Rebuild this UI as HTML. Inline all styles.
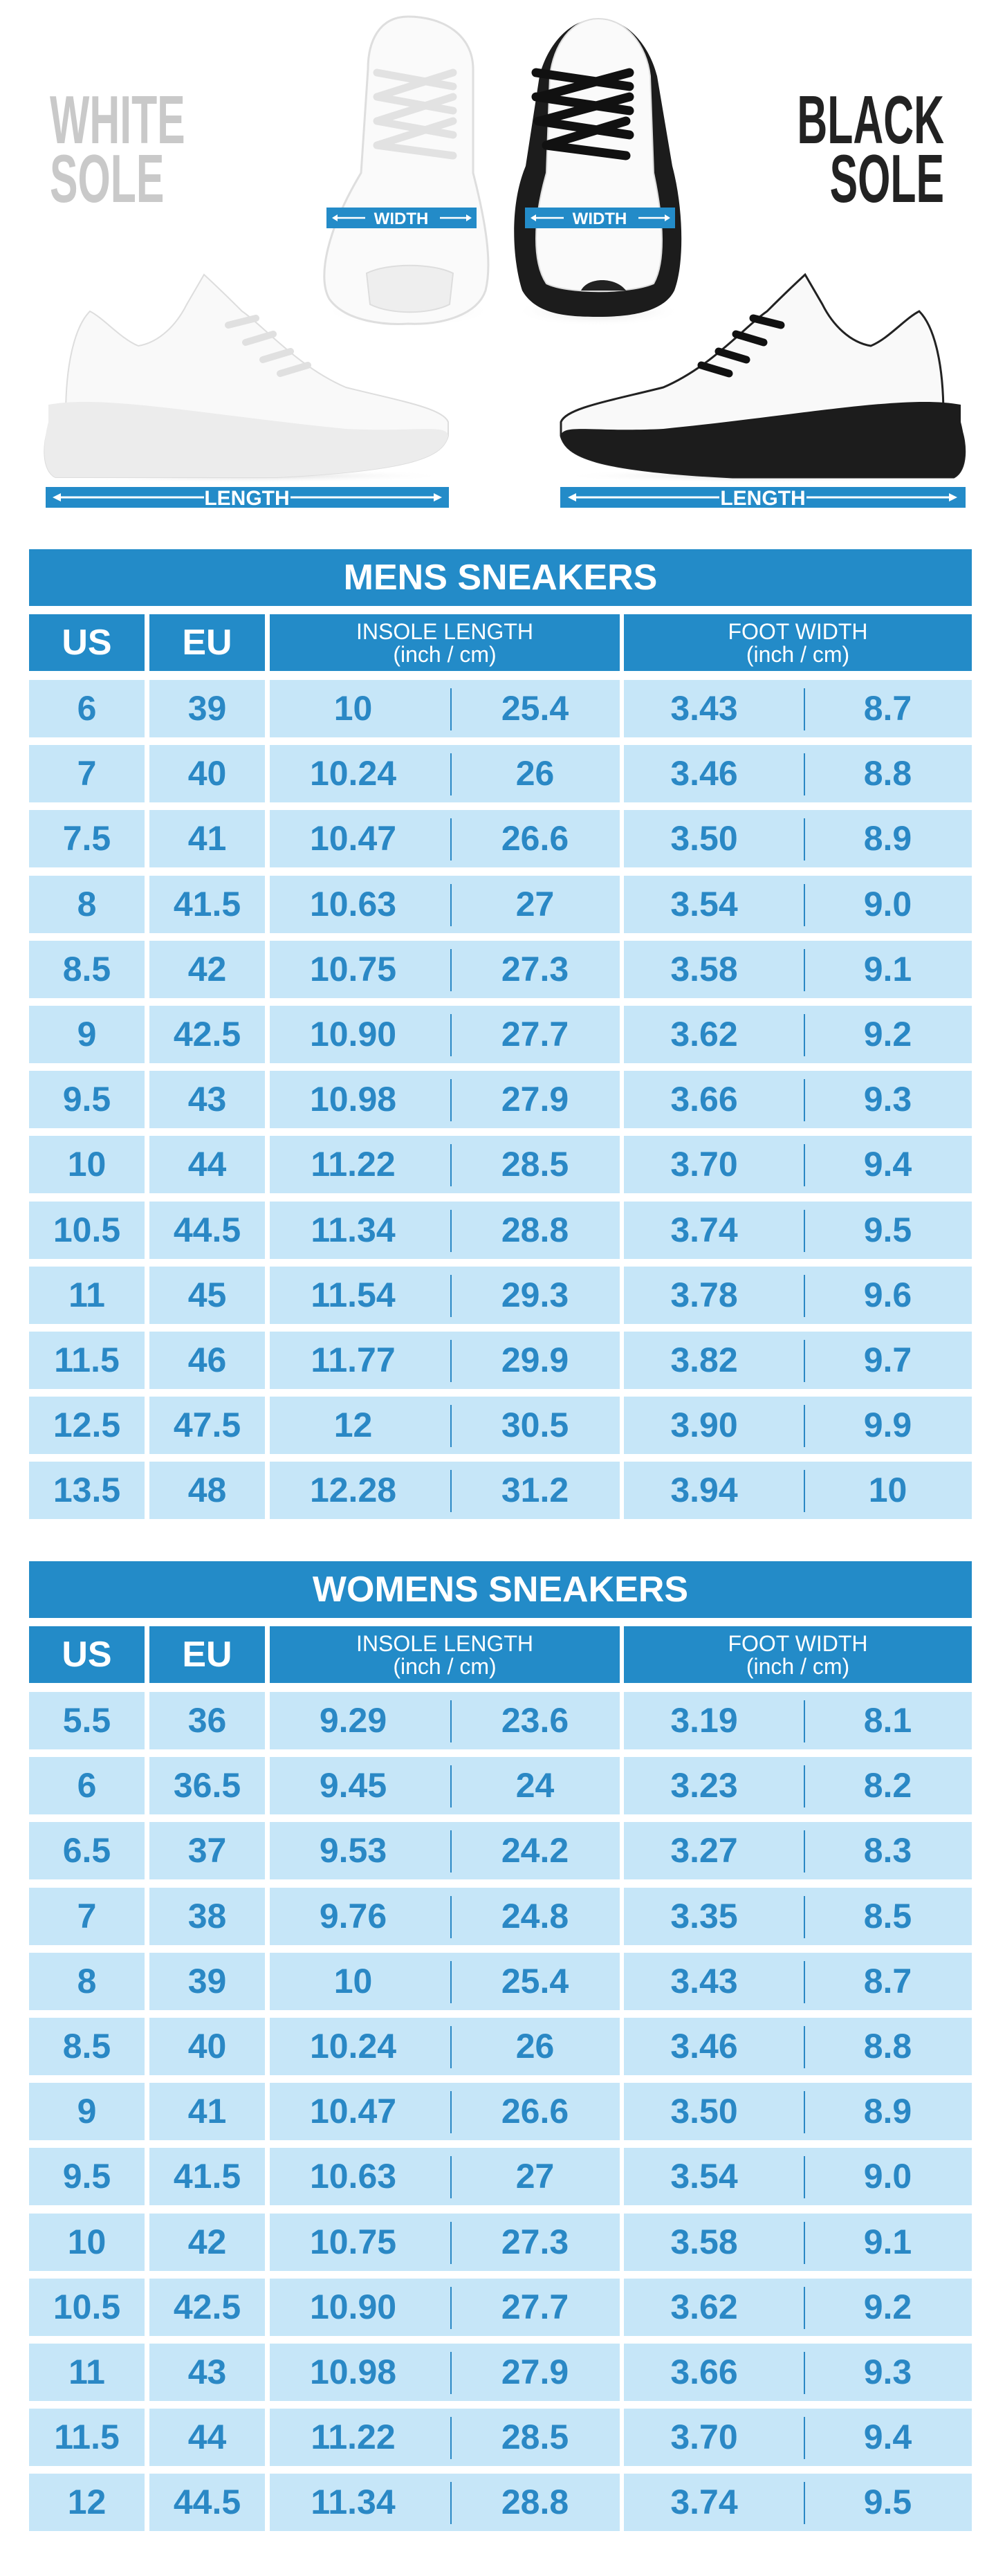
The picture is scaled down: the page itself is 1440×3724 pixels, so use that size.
<!DOCTYPE html>
<html><head><meta charset="utf-8">
<style>
*{margin:0;padding:0;box-sizing:border-box}
body{width:1440px;height:3724px;background:#fff;position:relative;overflow:hidden;font-family:"Liberation Sans",sans-serif}
.sec{position:absolute;left:42px;width:1363px}
.title{position:absolute;left:0;width:1363px;height:82px;background:#238bc8;color:#fff;font-weight:bold;font-size:52px;line-height:82px;text-align:center}
.hd{position:absolute;height:82px;background:#238bc8;color:#fff;text-align:center}
.hd.big{font-weight:bold;font-size:52px;line-height:82px}
.hd.sm{font-size:32px;line-height:33px;padding-top:9px}
.rows{position:absolute;left:0;width:1363px}
.r{position:relative;height:83px;margin-bottom:11.2px}
.c{position:absolute;top:0;height:83px;background:#c6e6f8;color:#2a88c5;font-weight:bold;font-size:50px;line-height:83px;text-align:center}
.us{left:0;width:167px}.eu{left:174px;width:167px}
.in{left:348px;width:506px}.fw{left:860px;width:503px}
.c i{font-style:normal;position:absolute;top:0;width:50%;text-align:center}
.c i:first-child{left:0}
.c i:last-child{right:0}
.c i:last-child:before{content:"";position:absolute;left:0;top:12px;height:61px;border-left:2px solid #2a88c5}
.in i:first-child{width:261px;left:-10px}.in i:last-child{width:245px}
.fw i:first-child{width:260px;left:-14px}.fw i:last-child{width:243px}
</style></head><body>

<svg width="1440" height="780" style="position:absolute;left:0;top:0" xmlns="http://www.w3.org/2000/svg">
<defs>
<radialGradient id="sh" cx="50%" cy="50%" r="50%"><stop offset="0" stop-color="#bbb" stop-opacity=".6"/><stop offset="1" stop-color="#fff" stop-opacity="0"/></radialGradient>
</defs>
<g font-family="Liberation Sans" font-weight="bold" font-size="98">
<text x="72" y="207" fill="#c9c9c9" transform="translate(72 0) scale(.62 1) translate(-72 0)">WHITE</text>
<text x="72" y="292" fill="#c9c9c9" transform="translate(72 0) scale(.62 1) translate(-72 0)">SOLE</text>
<text x="1365" y="207" fill="#222" text-anchor="end" transform="translate(1365 0) scale(.62 1) translate(-1365 0)">BLACK</text>
<text x="1365" y="292" fill="#222" text-anchor="end" transform="translate(1365 0) scale(.62 1) translate(-1365 0)">SOLE</text>
</g>
<ellipse cx="590" cy="450" rx="120" ry="22" fill="url(#sh)"/>
<path d="M590,24 C548,24 532,60 532,100 L522,250 C474,330 458,400 476,432 C500,466 560,470 590,468 C640,470 690,455 702,420 C712,380 702,320 684,250 L684,100 C684,50 640,24 590,24 Z" fill="#fafafa" stroke="#dedede" stroke-width="3"/>
<path d="M530,395 C560,380 625,380 655,395 L650,440 C620,455 565,455 535,440 Z" fill="#eee" stroke="#ddd" stroke-width="2"/>
<g stroke="#e2e2e2" stroke-width="11" stroke-linecap="round" fill="none">
<path d="M545,105 L655,125 M545,140 L655,160 M545,175 L655,195 M545,210 L655,225 M655,105 L545,140 M655,140 L545,175 M655,175 L545,210"/>
</g>
<ellipse cx="865" cy="450" rx="120" ry="22" fill="url(#sh)"/>
<path d="M865,27 C820,27 790,70 780,110 L760,240 C735,300 742,380 755,420 C775,455 820,458 865,458 C915,458 960,450 975,420 C990,380 988,300 972,240 L950,110 C940,70 910,27 865,27 Z" fill="#1c1c1c"/>
<path d="M865,27 C826,27 800,65 795,110 L790,250 C770,320 770,380 790,410 C820,425 910,425 945,410 C962,380 960,320 945,250 L940,110 C935,65 905,27 865,27 Z" fill="#fafafa" stroke="#ddd" stroke-width="2"/>
<path d="M840,420 C850,400 890,400 905,420 Z" fill="#222"/>
<g stroke="#111" stroke-width="13" stroke-linecap="round" fill="none">
<path d="M775,105 L910,125 M775,140 L910,160 M778,175 L910,195 M790,210 L905,225 M910,105 L780,140 M910,140 L780,175 M905,175 L790,210"/>
</g>
<rect x="472" y="300" width="217" height="30" fill="#238bc8"/>
<rect x="759" y="300" width="217" height="30" fill="#238bc8"/>
<g>
<ellipse cx="360" cy="688" rx="290" ry="10" fill="url(#sh)"/>
<path d="M95,600 C95,520 110,470 130,450 C150,460 175,490 200,500 C230,495 255,470 270,440 L295,397 C320,420 340,440 350,450 C380,470 430,530 500,560 C580,580 640,590 648,610 L648,630 C640,660 600,680 400,690 L80,690 C60,680 62,640 70,620 Z" fill="#f9f9f9" stroke="#ddd" stroke-width="2"/>
<path d="M70,585 C150,570 300,600 500,620 C600,625 646,612 648,630 C640,660 600,680 400,690 L80,690 C60,680 62,640 70,610 Z" fill="#ececec"/>
</g>
<g fill="none" stroke="#e0e0e0" stroke-width="10" stroke-linecap="round">
<path d="M330,470 l40,-10 M355,495 l40,-12 M380,520 l40,-12 M405,540 l40,-12"/>
</g>
<rect x="66" y="704" width="583" height="30" fill="#238bc8"/>
<g transform="translate(1459 0) scale(-1 1)">
<ellipse cx="360" cy="688" rx="290" ry="10" fill="url(#sh)"/>
<path d="M95,600 C95,520 110,470 130,450 C150,460 175,490 200,500 C230,495 255,470 270,440 L295,397 C320,420 340,440 350,450 C380,470 430,530 500,560 C580,580 640,590 648,610 L648,630 C640,660 600,680 400,690 L80,690 C60,680 62,640 70,620 Z" fill="#f9f9f9" stroke="#222" stroke-width="3"/>
<path d="M70,585 C150,570 300,600 500,620 C600,625 646,612 648,630 C640,660 600,680 400,690 L80,690 C60,680 62,640 70,610 Z" fill="#1c1c1c"/>
<path d="M330,470 l40,-10 M355,495 l40,-12 M380,520 l40,-12 M405,540 l40,-12" fill="none" stroke="#111" stroke-width="11" stroke-linecap="round"/>
</g>
<rect x="810" y="704" width="586" height="30" fill="#238bc8"/>
<g fill="#fff" font-family="Liberation Sans" font-weight="bold" font-size="24" text-anchor="middle">
<text x="580" y="324">WIDTH</text><text x="867" y="324">WIDTH</text>
<text x="357" y="730" font-size="30">LENGTH</text><text x="1103" y="730" font-size="30">LENGTH</text>
</g>
<g stroke="#fff" stroke-width="2.5" fill="#fff">
<path d="M482,315 L528,315 M636,315 L680,315 M769,315 L815,315 M923,315 L967,315"/>
<path d="M480,315 l8,-5 v10z M682,315 l-8,-5 v10z M767,315 l8,-5 v10z M969,315 l-8,-5 v10z" stroke="none"/>
</g>
<g stroke="#fff" stroke-width="3" fill="#fff">
<path d="M80,719 L295,719 M420,719 L635,719 M825,719 L1040,719 M1166,719 L1380,719"/>
<path d="M76,719 l12,-6 v12z M639,719 l-12,-6 v12z M821,719 l12,-6 v12z M1384,719 l-12,-6 v12z" stroke="none"/>
</g>
</svg>

<div class="sec" style="top:794px">
<div class="title" style="top:0">MENS SNEAKERS</div>
<div class="hd big" style="top:94px;left:0;width:167px">US</div>
<div class="hd big" style="top:94px;left:174px;width:167px">EU</div>
<div class="hd sm" style="top:94px;left:348px;width:506px">INSOLE LENGTH<br>(inch / cm)</div>
<div class="hd sm" style="top:94px;left:860px;width:503px">FOOT WIDTH<br>(inch / cm)</div>
<div class="rows" style="top:189px">
<div class="r"><b class="c us">6</b><b class="c eu">39</b><b class="c in"><i>10</i><i>25.4</i></b><b class="c fw"><i>3.43</i><i>8.7</i></b></div>
<div class="r"><b class="c us">7</b><b class="c eu">40</b><b class="c in"><i>10.24</i><i>26</i></b><b class="c fw"><i>3.46</i><i>8.8</i></b></div>
<div class="r"><b class="c us">7.5</b><b class="c eu">41</b><b class="c in"><i>10.47</i><i>26.6</i></b><b class="c fw"><i>3.50</i><i>8.9</i></b></div>
<div class="r"><b class="c us">8</b><b class="c eu">41.5</b><b class="c in"><i>10.63</i><i>27</i></b><b class="c fw"><i>3.54</i><i>9.0</i></b></div>
<div class="r"><b class="c us">8.5</b><b class="c eu">42</b><b class="c in"><i>10.75</i><i>27.3</i></b><b class="c fw"><i>3.58</i><i>9.1</i></b></div>
<div class="r"><b class="c us">9</b><b class="c eu">42.5</b><b class="c in"><i>10.90</i><i>27.7</i></b><b class="c fw"><i>3.62</i><i>9.2</i></b></div>
<div class="r"><b class="c us">9.5</b><b class="c eu">43</b><b class="c in"><i>10.98</i><i>27.9</i></b><b class="c fw"><i>3.66</i><i>9.3</i></b></div>
<div class="r"><b class="c us">10</b><b class="c eu">44</b><b class="c in"><i>11.22</i><i>28.5</i></b><b class="c fw"><i>3.70</i><i>9.4</i></b></div>
<div class="r"><b class="c us">10.5</b><b class="c eu">44.5</b><b class="c in"><i>11.34</i><i>28.8</i></b><b class="c fw"><i>3.74</i><i>9.5</i></b></div>
<div class="r"><b class="c us">11</b><b class="c eu">45</b><b class="c in"><i>11.54</i><i>29.3</i></b><b class="c fw"><i>3.78</i><i>9.6</i></b></div>
<div class="r"><b class="c us">11.5</b><b class="c eu">46</b><b class="c in"><i>11.77</i><i>29.9</i></b><b class="c fw"><i>3.82</i><i>9.7</i></b></div>
<div class="r"><b class="c us">12.5</b><b class="c eu">47.5</b><b class="c in"><i>12</i><i>30.5</i></b><b class="c fw"><i>3.90</i><i>9.9</i></b></div>
<div class="r"><b class="c us">13.5</b><b class="c eu">48</b><b class="c in"><i>12.28</i><i>31.2</i></b><b class="c fw"><i>3.94</i><i>10</i></b></div>
</div>
</div>

<div class="sec" style="top:2257px">
<div class="title" style="top:0">WOMENS SNEAKERS</div>
<div class="hd big" style="top:94px;left:0;width:167px">US</div>
<div class="hd big" style="top:94px;left:174px;width:167px">EU</div>
<div class="hd sm" style="top:94px;left:348px;width:506px">INSOLE LENGTH<br>(inch / cm)</div>
<div class="hd sm" style="top:94px;left:860px;width:503px">FOOT WIDTH<br>(inch / cm)</div>
<div class="rows" style="top:189px">
<div class="r"><b class="c us">5.5</b><b class="c eu">36</b><b class="c in"><i>9.29</i><i>23.6</i></b><b class="c fw"><i>3.19</i><i>8.1</i></b></div>
<div class="r"><b class="c us">6</b><b class="c eu">36.5</b><b class="c in"><i>9.45</i><i>24</i></b><b class="c fw"><i>3.23</i><i>8.2</i></b></div>
<div class="r"><b class="c us">6.5</b><b class="c eu">37</b><b class="c in"><i>9.53</i><i>24.2</i></b><b class="c fw"><i>3.27</i><i>8.3</i></b></div>
<div class="r"><b class="c us">7</b><b class="c eu">38</b><b class="c in"><i>9.76</i><i>24.8</i></b><b class="c fw"><i>3.35</i><i>8.5</i></b></div>
<div class="r"><b class="c us">8</b><b class="c eu">39</b><b class="c in"><i>10</i><i>25.4</i></b><b class="c fw"><i>3.43</i><i>8.7</i></b></div>
<div class="r"><b class="c us">8.5</b><b class="c eu">40</b><b class="c in"><i>10.24</i><i>26</i></b><b class="c fw"><i>3.46</i><i>8.8</i></b></div>
<div class="r"><b class="c us">9</b><b class="c eu">41</b><b class="c in"><i>10.47</i><i>26.6</i></b><b class="c fw"><i>3.50</i><i>8.9</i></b></div>
<div class="r"><b class="c us">9.5</b><b class="c eu">41.5</b><b class="c in"><i>10.63</i><i>27</i></b><b class="c fw"><i>3.54</i><i>9.0</i></b></div>
<div class="r"><b class="c us">10</b><b class="c eu">42</b><b class="c in"><i>10.75</i><i>27.3</i></b><b class="c fw"><i>3.58</i><i>9.1</i></b></div>
<div class="r"><b class="c us">10.5</b><b class="c eu">42.5</b><b class="c in"><i>10.90</i><i>27.7</i></b><b class="c fw"><i>3.62</i><i>9.2</i></b></div>
<div class="r"><b class="c us">11</b><b class="c eu">43</b><b class="c in"><i>10.98</i><i>27.9</i></b><b class="c fw"><i>3.66</i><i>9.3</i></b></div>
<div class="r"><b class="c us">11.5</b><b class="c eu">44</b><b class="c in"><i>11.22</i><i>28.5</i></b><b class="c fw"><i>3.70</i><i>9.4</i></b></div>
<div class="r"><b class="c us">12</b><b class="c eu">44.5</b><b class="c in"><i>11.34</i><i>28.8</i></b><b class="c fw"><i>3.74</i><i>9.5</i></b></div>
</div>
</div>
</body></html>
